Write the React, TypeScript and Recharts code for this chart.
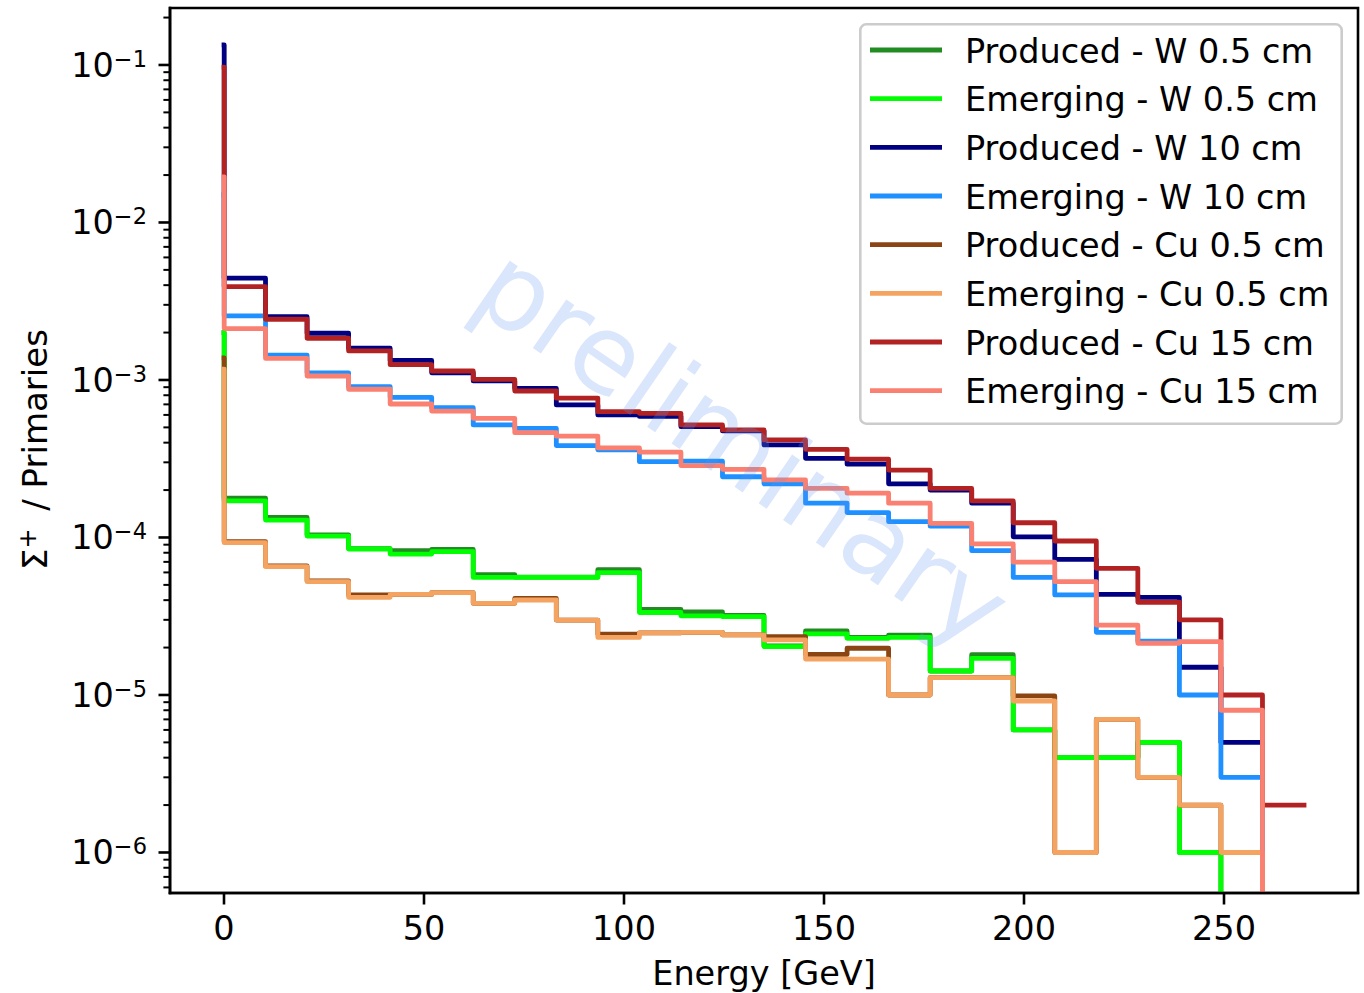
import React from 'react';
import { LineChart, Line, XAxis, YAxis, Legend, Label, ReferenceArea } from 'recharts';

// Bin edges (GeV). First bin is the very narrow bin at 0 (the spike).
const EDGES = [0, 0.05, 10.38, 20.77, 31.15, 41.54, 51.92, 62.31, 72.69, 83.08, 93.46, 103.85, 114.23, 124.62, 135.0, 145.38, 155.77, 166.15, 176.54, 186.92, 197.31, 207.69, 218.08, 228.46, 238.85, 249.23, 259.62, 270.0];

const PRODUCED_W05 = [2.0e-3, 1.78e-4, 1.34e-4, 1.04e-4, 8.5e-5, 8.24e-5, 8.4e-5, 5.81e-5, 5.6e-5, 5.6e-5, 6.25e-5, 3.5e-5, 3.37e-5, 3.2e-5, 2.05e-5, 2.55e-5, 2.32e-5, 2.4e-5, 1.42e-5, 1.8e-5, 6.0e-6, 4.0e-6, 4.0e-6, 5.0e-6, 1.0e-6, 0, 0];
const EMERGING_W05 = [2.0e-3, 1.71e-4, 1.29e-4, 1.02e-4, 8.45e-5, 7.85e-5, 8.13e-5, 5.58e-5, 5.58e-5, 5.58e-5, 5.98e-5, 3.34e-5, 3.18e-5, 3.14e-5, 2.03e-5, 2.44e-5, 2.29e-5, 2.32e-5, 1.42e-5, 1.71e-5, 6.0e-6, 4.0e-6, 4.0e-6, 5.0e-6, 1.0e-6, 0, 0];
const PRODUCED_W10 = [0.134, 4.43e-3, 2.52e-3, 1.98e-3, 1.59e-3, 1.33e-3, 1.11e-3, 9.86e-4, 8.85e-4, 6.94e-4, 6.0e-4, 5.87e-4, 5.05e-4, 4.75e-4, 3.87e-4, 3.18e-4, 2.92e-4, 2.19e-4, 2.0e-4, 1.65e-4, 1.01e-4, 7.27e-5, 4.35e-5, 4.17e-5, 1.5e-5, 5.0e-6, 0];
const EMERGING_W10 = [0.015, 2.55e-3, 1.44e-3, 1.11e-3, 9.08e-4, 7.76e-4, 6.67e-4, 5.18e-4, 4.93e-4, 3.83e-4, 3.6e-4, 3.03e-4, 3.05e-4, 2.43e-4, 2.19e-4, 1.65e-4, 1.44e-4, 1.26e-4, 1.18e-4, 8.24e-5, 5.58e-5, 4.32e-5, 2.5e-5, 2.2e-5, 1.0e-5, 3.0e-6, 0];
const PRODUCED_CU05 = [1.38e-3, 9.4e-5, 6.6e-5, 5.3e-5, 4.32e-5, 4.35e-5, 4.46e-5, 3.82e-5, 4.1e-5, 2.99e-5, 2.43e-5, 2.48e-5, 2.5e-5, 2.41e-5, 2.35e-5, 1.81e-5, 1.98e-5, 1.0e-5, 1.29e-5, 1.29e-5, 9.86e-6, 1.0e-6, 7.0e-6, 3.0e-6, 2.0e-6, 1.0e-6, 0];
const EMERGING_CU05 = [1.17e-3, 9.27e-5, 6.53e-5, 5.24e-5, 4.17e-5, 4.35e-5, 4.46e-5, 3.82e-5, 4.01e-5, 2.99e-5, 2.32e-5, 2.48e-5, 2.5e-5, 2.41e-5, 2.24e-5, 1.69e-5, 1.69e-5, 1.0e-5, 1.29e-5, 1.29e-5, 9.16e-6, 1.0e-6, 7.0e-6, 3.0e-6, 2.0e-6, 1.0e-6, 0];
const PRODUCED_CU15 = [0.097, 3.91e-3, 2.43e-3, 1.84e-3, 1.53e-3, 1.25e-3, 1.14e-3, 1.01e-3, 8.51e-4, 7.66e-4, 6.29e-4, 6.14e-4, 5.18e-4, 4.82e-4, 4.16e-4, 3.63e-4, 3.14e-4, 2.68e-4, 2.05e-4, 1.71e-4, 1.24e-4, 9.5e-5, 6.37e-5, 3.88e-5, 3.0e-5, 1.0e-5, 2.0e-6];
const EMERGING_CU15 = [0.0195, 2.12e-3, 1.37e-3, 1.06e-3, 8.73e-4, 7.04e-4, 6.35e-4, 5.71e-4, 4.63e-4, 4.4e-4, 3.71e-4, 3.48e-4, 2.86e-4, 2.71e-4, 2.32e-4, 2.05e-4, 1.91e-4, 1.65e-4, 1.23e-4, 9.1e-5, 6.97e-5, 5.24e-5, 2.78e-5, 2.13e-5, 2.18e-5, 8.0e-6, 0];

const SERIES = [
  { key: 'pw05', name: 'Produced - W 0.5 cm', color: '#228B22', values: PRODUCED_W05 },
  { key: 'ew05', name: 'Emerging - W 0.5 cm', color: '#00FF00', values: EMERGING_W05 },
  { key: 'pw10', name: 'Produced - W 10 cm', color: '#000080', values: PRODUCED_W10 },
  { key: 'ew10', name: 'Emerging - W 10 cm', color: '#1E90FF', values: EMERGING_W10 },
  { key: 'pcu05', name: 'Produced - Cu 0.5 cm', color: '#8B4513', values: PRODUCED_CU05 },
  { key: 'ecu05', name: 'Emerging - Cu 0.5 cm', color: '#F4A460', values: EMERGING_CU05 },
  { key: 'pcu15', name: 'Produced - Cu 15 cm', color: '#B22222', values: PRODUCED_CU15 },
  { key: 'ecu15', name: 'Emerging - Cu 15 cm', color: '#FA8072', values: EMERGING_CU15 },
];

const X_TICKS = [0, 50, 100, 150, 200, 250];
const Y_MAJOR = [1e-6, 1e-5, 1e-4, 1e-3, 1e-2, 1e-1];
const Y_LABELS = ['\u22126', '\u22125', '\u22124', '\u22123', '\u22122', '\u22121'];
const MINOR_MULT = [2, 3, 4, 5, 6, 7, 8, 9];

const X_DOMAIN: [number, number] = [-13.5, 283.5];
const Y_DOMAIN: [number, number] = [5.53e-7, 0.23];
const FLOOR = 1e-9; // empty bins drop below the axis (clipped)

const FONT = 'DejaVu Sans';
const FS = 33.5;

// minor ticks of the log axis
const Y_TICKS: number[] = [];
[1e-7, ...Y_MAJOR].forEach((d) => {
  if (d >= Y_DOMAIN[0]) Y_TICKS.push(d);
  MINOR_MULT.forEach((m) => {
    const v = d * m;
    if (v >= Y_DOMAIN[0] && v <= Y_DOMAIN[1]) Y_TICKS.push(v);
  });
});
Y_TICKS.sort((a, b) => a - b);

// step data: one row per bin left edge, plus closing edge
const DATA = EDGES.map((x, i) => {
  const row: any = { x };
  SERIES.forEach((s) => {
    const v = i < s.values.length ? s.values[i] : s.values[s.values.length - 1];
    row[s.key] = v > 0 ? v : FLOOR;
  });
  return row;
});

const majorIndex = (v: number) => Y_MAJOR.findIndex((m) => Math.abs(v / m - 1) < 1e-6);

const YTick = (props: any) => {
  const { x, y, payload } = props;
  const idx = majorIndex(payload.value);
  const major = idx >= 0;
  return (
    <g>
      <line x1={x} x2={x - (major ? 11.5 : 6.6)} y1={y} y2={y} stroke="#000" strokeWidth={major ? 2.6 : 2} />
      {major && (
        <text x={x - 23} y={y + 12} textAnchor="end" fontSize={FS} fontFamily={FONT} fill="#000">
          10
          <tspan dy={-10} fontSize={22.5}>{Y_LABELS[idx]}</tspan>
        </text>
      )}
    </g>
  );
};

const XTick = (props: any) => {
  const { x, y, payload } = props;
  return (
    <g>
      <line x1={x} x2={x} y1={y} y2={y + 11.5} stroke="#000" strokeWidth={2.6} />
      <text x={x} y={y + 47} textAnchor="middle" fontSize={FS} fontFamily={FONT} fill="#000">
        {String(payload.value)}
      </text>
    </g>
  );
};

const XLabel = (props: any) => {
  const vb = props.viewBox || { x: 170, y: 893, width: 1188, height: 100 };
  return (
    <text x={vb.x + vb.width / 2} y={vb.y + 92} textAnchor="middle" fontSize={FS} fontFamily={FONT} fill="#000">
      Energy [GeV]
    </text>
  );
};

const YLabel = (props: any) => {
  const vb = props.viewBox || { x: 0, y: 8, width: 170, height: 885 };
  const cx = vb.x + 47;
  const cy = vb.y + vb.height / 2 - 1;
  return (
    <text x={cx} y={cy} transform={`rotate(-90 ${cx} ${cy})`} textAnchor="middle" fontSize={34} fontFamily={FONT} fill="#000">
      {'\u03A3'}
      <tspan dy={-11} fontSize={24}>+</tspan>
      <tspan dy={11}>{'\u2009 / Primaries'}</tspan>
    </text>
  );
};

const LegendBox = () => {
  const rowH = 48.67;
  return (
    <svg width={484} height={402} style={{ display: 'block' }}>
      <rect x={1.3} y={1.3} width={481.4} height={399.4} rx={6} ry={6} fill="#fff" fillOpacity={0.8} stroke="#cccccc" strokeWidth={2.6} />
      {SERIES.map((s, i) => {
        const cy = 27 + i * rowH;
        return (
          <g key={s.key}>
            <line x1={11} x2={83} y1={cy} y2={cy} stroke={s.color} strokeWidth={4.8} strokeLinecap="butt" />
            <text x={106} y={cy + 12.7} fontSize={FS} fontFamily={FONT} fill="#000">
              {s.name}
            </text>
          </g>
        );
      })}
    </svg>
  );
};

const axisLineStyle = { stroke: '#000', strokeWidth: 2.6, strokeLinecap: 'square' as const };

export default function App() {
  return (
    <div style={{ position: 'absolute', left: 0, top: 0, width: 1364, height: 993, background: '#fff' }}>
      <LineChart width={1364} height={993} data={DATA} margin={{ top: 8, right: 6, bottom: 0, left: 0 }}>
        <XAxis
          dataKey="x"
          type="number"
          domain={X_DOMAIN}
          allowDataOverflow
          ticks={X_TICKS}
          interval={0}
          height={100}
          tickSize={0}
          tickMargin={0}
          tickLine={false}
          tick={<XTick />}
          axisLine={axisLineStyle}
        >
          <Label content={<XLabel />} />
        </XAxis>
        <YAxis
          type="number"
          scale="log"
          domain={Y_DOMAIN}
          allowDataOverflow
          ticks={Y_TICKS}
          interval={0}
          width={170}
          tickSize={0}
          tickMargin={0}
          tickLine={false}
          tick={<YTick />}
          axisLine={axisLineStyle}
        >
          <Label content={<YLabel />} />
        </YAxis>
        {SERIES.map((s) => (
          <Line
            key={s.key}
            type="stepAfter"
            dataKey={s.key}
            name={s.name}
            stroke={s.color}
            strokeWidth={4.8}
            strokeLinejoin="round"
            strokeLinecap="square"
            dot={false}
            activeDot={false}
            isAnimationActive={false}
          />
        ))}
        <ReferenceArea
          x1={X_DOMAIN[0]}
          x2={X_DOMAIN[1]}
          y1={Y_DOMAIN[0]}
          y2={Y_DOMAIN[1]}
          fill="none"
          fillOpacity={0}
          stroke="#000"
          strokeWidth={2.6}
          ifOverflow="visible"
        />
        <Legend
          layout="vertical"
          align="center"
          verticalAlign="middle"
          wrapperStyle={{ left: 859, top: 23, width: 484, height: 402 }}
          content={<LegendBox />}
        />
      </LineChart>
      <svg width={1364} height={993} style={{ position: 'absolute', left: 0, top: 0, pointerEvents: 'none' }}>
        <text
          x={743}
          y={447}
          transform="rotate(34.5 743 447)"
          textAnchor="middle"
          dominantBaseline="central"
          fontSize={108}
          fontFamily={FONT}
          fill="#6495ED"
          fillOpacity={0.24}
        >
          preliminary
        </text>
      </svg>
    </div>
  );
}
